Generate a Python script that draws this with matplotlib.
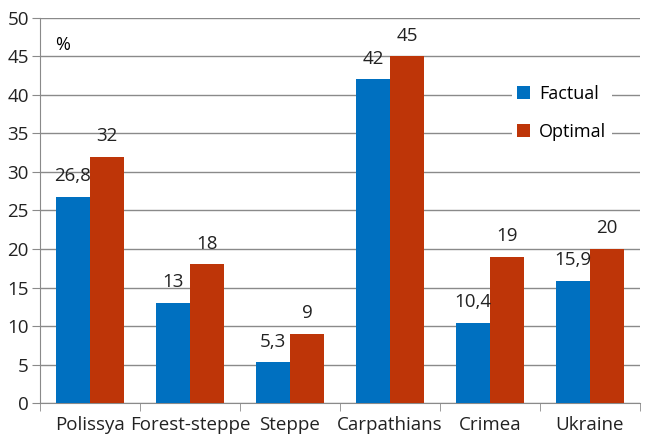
import matplotlib.pyplot as plt
import numpy as np

regions = ["Polissya", "Forest-steppe", "Steppe", "Carpathians", "Crimea", "Ukraine"]
factual = [26.8, 13, 5.3, 42, 10.4, 15.9]
optimal = [32, 18, 9, 45, 19, 20]
factual_labels = ["26,8", "13", "5,3", "42", "10,4", "15,9"]
optimal_labels = ["32", "18", "9", "45", "19", "20"]

plt.rcParams['font.family'] = ['Open Sans', 'DejaVu Sans']

fig = plt.figure(figsize=(6.45, 4.34), dpi=100)
ax = fig.add_axes([0.062, 0.071, 0.93, 0.888])

x = np.arange(len(regions))
w = 0.34
b1 = ax.bar(x - w / 2, factual, w, color="#0070C0", label="Factual", zorder=3)
b2 = ax.bar(x + w / 2, optimal, w, color="#BE3508", label="Optimal", zorder=3)

for bar, txt in zip(b1, factual_labels):
    ax.annotate(txt, (bar.get_x() + bar.get_width() / 2, bar.get_height()),
                xytext=(0, 8.5), textcoords="offset points", ha="center", va="bottom",
                fontsize=13.5, color="#222222")
for bar, txt in zip(b2, optimal_labels):
    ax.annotate(txt, (bar.get_x() + bar.get_width() / 2, bar.get_height()),
                xytext=(0, 8.5), textcoords="offset points", ha="center", va="bottom",
                fontsize=13.5, color="#222222")

ax.set_xlim(-0.5, len(regions) - 0.5)
ax.set_ylim(0, 50)
ax.set_yticks(range(0, 51, 5))
ax.yaxis.grid(True, color="#8a8a8a", linewidth=1, zorder=0)
ax.set_axisbelow(True)

ax.set_xticks(x)
ax.set_xticklabels(regions, fontsize=13.5, color="#222222")
ax.tick_params(axis="x", length=0, pad=9)
ax.set_xticks(np.arange(-0.5, len(regions), 1), minor=True)
ax.tick_params(axis="x", which="minor", length=6, color="#8a8a8a")
ax.tick_params(axis="y", length=6, color="#8a8a8a", labelsize=13.5, labelcolor="#222222", pad=2)

for s in ["top", "right"]:
    ax.spines[s].set_visible(False)
for s in ["left", "bottom"]:
    ax.spines[s].set_color("#8a8a8a")

ax.text(0.025, 0.93, "%", transform=ax.transAxes, fontsize=13, ha="left", va="center")

leg = ax.legend(loc="center", bbox_to_anchor=(0.87, 0.753), frameon=True,
                fontsize=13, handlelength=0.7, handleheight=0.7,
                labelspacing=1.1, borderpad=0.3, handletextpad=0.5)
leg.get_frame().set_facecolor("white")
leg.get_frame().set_edgecolor("none")
leg.get_frame().set_alpha(1)
leg.set_zorder(5)

fig.savefig("out.png", dpi=100)
